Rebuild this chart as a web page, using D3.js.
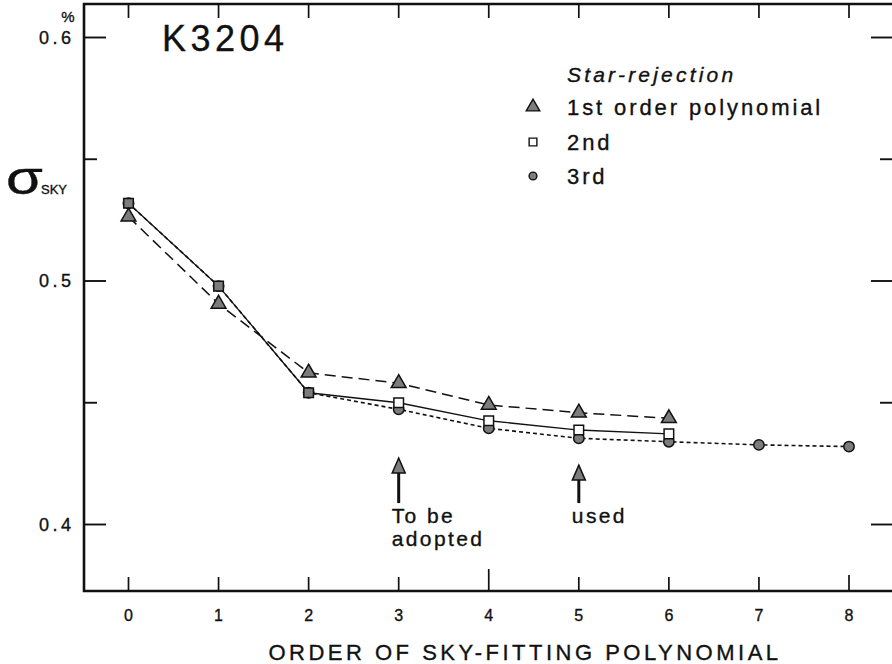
<!DOCTYPE html>
<html>
<head>
<meta charset="utf-8">
<script src="https://cdn.jsdelivr.net/npm/d3@7"></script>
<style>
  body { margin: 0; background: #fff; }
  svg { display: block; }
  text { font-family: "Liberation Sans", Arial, Helvetica, sans-serif; fill: #111; stroke: #111; stroke-width: 0.35px; }
</style>
</head>
<body>
<svg id="chart" width="892" height="664"></svg>
<script>
// Sky noise (sigma_SKY, %) versus order of the sky-fitting polynomial, K3204
const orders = [0, 1, 2, 3, 4, 5, 6, 7, 8];
const firstOrder  = [0.5264, 0.4906, 0.4623, 0.4580, 0.4491, 0.4459, 0.4436];
const secondOrder = [0.5319, 0.4979, 0.4541, 0.4500, 0.4426, 0.4388, 0.4372];
const thirdOrder  = [0.5319, 0.4979, 0.4541, 0.4473, 0.4395, 0.4354, 0.4340, 0.4327, 0.4320];
const yMajorTicks = [0.4, 0.5, 0.6];
const yMinorTicks = [0.45, 0.55];
const yTickLabels = ["0.4", "0.5", "0.6"];
const xTickLabels = ["0", "1", "2", "3", "4", "5", "6", "7", "8"];
const legendLabels = ["1st order polynomial", "2nd", "3rd"];
// annotation arrows: order, tip value, tail value, caption lines
const arrowOrders = [3, 5];
const arrowTips = [0.4273, 0.4244];
const arrowTails = [0.4088, 0.4088];
const arrowCaptions = [["To be", "adopted"], ["used"]];

const svg = d3.select("#chart");
const W = 892, H = 664;
const frame = { left: 84, top: 4, bottom: 591, right: 893 };

const x = d3.scaleLinear().domain([0, 8]).range([128.5, 849]);
const y = d3.scaleLinear().domain([0.4, 0.6]).range([524.5, 37.5]);

const ink = "#111";
const markFill = "#7c7c7c";

// frame (right edge runs off the page)
svg.append("path")
  .attr("d", `M${frame.right},${frame.top}H${frame.left}V${frame.bottom}H${frame.right}`)
  .attr("fill", "none").attr("stroke", ink).attr("stroke-width", 2.6);

// x ticks, bottom (inward) and top (inward)
const xTickLen = d => d === 4 ? 22 : (d === 8 ? 16 : 14);
svg.append("g").selectAll("line").data(orders).join("line")
  .attr("x1", d => x(d)).attr("x2", d => x(d))
  .attr("y1", frame.bottom).attr("y2", d => frame.bottom - xTickLen(d))
  .attr("stroke", ink).attr("stroke-width", 1.7);
svg.append("g").selectAll("line").data(orders).join("line")
  .attr("x1", d => x(d)).attr("x2", d => x(d))
  .attr("y1", frame.top).attr("y2", frame.top + 14)
  .attr("stroke", ink).attr("stroke-width", 1.7);

// y ticks, left and right (inward)
const yTicksAll = yMajorTicks.map(v => ({ v, len: 22 })).concat(yMinorTicks.map(v => ({ v, len: 13 })));
svg.append("g").selectAll("line").data(yTicksAll).join("line")
  .attr("x1", frame.left).attr("x2", d => frame.left + d.len)
  .attr("y1", d => y(d.v)).attr("y2", d => y(d.v))
  .attr("stroke", ink).attr("stroke-width", 1.9);
svg.append("g").selectAll("line").data(yTicksAll).join("line")
  .attr("x1", W).attr("x2", d => W - d.len + 1)
  .attr("y1", d => y(d.v)).attr("y2", d => y(d.v))
  .attr("stroke", ink).attr("stroke-width", 1.9);

// tick labels
svg.append("g").selectAll("text").data(yMajorTicks).join("text")
  .attr("x", 74.5).attr("y", d => y(d)).attr("dy", "0.36em")
  .attr("text-anchor", "end").attr("font-size", 18).attr("letter-spacing", 3.5)
  .text((d, i) => yTickLabels[i]);
svg.append("text").attr("x", 68).attr("y", 22).attr("text-anchor", "middle")
  .attr("font-size", 15).text("%");

svg.append("g").selectAll("text").data(orders).join("text")
  .attr("x", d => x(d)).attr("y", 621)
  .attr("text-anchor", "middle").attr("font-size", 16)
  .text((d, i) => xTickLabels[i]);

// axis titles
svg.append("text").attr("x", 525).attr("y", 660)
  .attr("text-anchor", "middle").attr("font-size", 22)
  .attr("letter-spacing", 3.5)
  .text("ORDER OF SKY-FITTING POLYNOMIAL");

svg.append("text")
  .attr("transform", "translate(6,194) scale(1.3,1)")
  .attr("font-family", "DejaVu Sans").attr("font-size", 46)
  .attr("stroke-width", 0.6)
  .text("σ");
svg.append("text").attr("x", 41).attr("y", 194)
  .attr("font-size", 13).text("SKY");

// panel title
svg.append("text").attr("x", 162).attr("y", 51)
  .attr("font-size", 36).attr("letter-spacing", 4.5)
  .attr("stroke", ink).attr("stroke-width", 0.8)
  .text("K3204");

// series lines
const line = d3.line().x((d, i) => x(orders[i])).y(d => y(d));
svg.append("path").datum(thirdOrder).attr("d", line)
  .attr("fill", "none").attr("stroke", ink).attr("stroke-width", 1.6)
  .attr("stroke-dasharray", "4,3");
svg.append("path").datum(firstOrder).attr("d", line)
  .attr("fill", "none").attr("stroke", ink).attr("stroke-width", 1.5)
  .attr("stroke-dasharray", "11,6");
svg.append("path").datum(secondOrder).attr("d", line)
  .attr("fill", "none").attr("stroke", ink).attr("stroke-width", 1.3);

// markers
const tri = d3.symbol().type(d3.symbolTriangle).size(95);
const sq = d3.symbol().type(d3.symbolSquare).size(92);
const circ = d3.symbol().type(d3.symbolCircle).size(85);

svg.append("g").selectAll("path").data(thirdOrder).join("path")
  .attr("d", circ)
  .attr("transform", (d, i) => `translate(${x(orders[i])},${y(d)})`)
  .attr("fill", markFill).attr("stroke", ink).attr("stroke-width", 1.5);
svg.append("g").selectAll("path").data(secondOrder).join("path")
  .attr("d", sq)
  .attr("transform", (d, i) => `translate(${x(orders[i])},${y(d)})`)
  .attr("fill", (d, i) => d === thirdOrder[i] ? markFill : "#fff")
  .attr("stroke", ink).attr("stroke-width", 1.5);
svg.append("g").selectAll("path").data(firstOrder).join("path")
  .attr("d", tri)
  .attr("transform", (d, i) => `translate(${x(orders[i])},${y(d)})`)
  .attr("fill", markFill).attr("stroke", ink).attr("stroke-width", 1.5);

// legend
svg.append("text").attr("x", 567).attr("y", 82)
  .attr("font-size", 21).attr("font-style", "italic").attr("letter-spacing", 3.2)
  .text("Star-rejection");
const legendSyms = [
  d3.symbol().type(d3.symbolTriangle).size(80),
  d3.symbol().type(d3.symbolSquare).size(60),
  d3.symbol().type(d3.symbolCircle).size(48)
];
const legendFills = [markFill, "#fff", markFill];
const legendY = [107, 142, 176];
const lg = svg.append("g").selectAll("g").data(legendLabels).join("g")
  .attr("transform", (d, i) => `translate(0,${legendY[i]})`);
lg.append("path").attr("d", (d, i) => legendSyms[i]())
  .attr("transform", "translate(533,0)")
  .attr("fill", (d, i) => legendFills[i]).attr("stroke", ink).attr("stroke-width", 1.4);
lg.append("text").attr("x", 567).attr("dy", "0.36em")
  .attr("font-size", 22).attr("letter-spacing", 2.9)
  .text(d => d);

// annotation arrows
const arrows = arrowOrders.map((o, i) => ({ o, tip: arrowTips[i], tail: arrowTails[i], cap: arrowCaptions[i] }));
const ag = svg.append("g").selectAll("g").data(arrows).join("g");
ag.append("line")
  .attr("x1", d => x(d.o)).attr("x2", d => x(d.o))
  .attr("y1", d => y(d.tip) + 12).attr("y2", d => y(d.tail))
  .attr("stroke", ink).attr("stroke-width", 3);
ag.append("path")
  .attr("d", d => `M${x(d.o)},${y(d.tip)}L${x(d.o) + 6.5},${y(d.tip) + 15}L${x(d.o) - 6.5},${y(d.tip) + 15}Z`)
  .attr("fill", markFill).attr("stroke", ink).attr("stroke-width", 1.5);
ag.each(function (d) {
  d.cap.forEach((c, k) => d3.select(this).append("text")
    .attr("x", x(d.o) - 7).attr("y", y(d.tail) + 20 + k * 23)
    .attr("font-size", 21).attr("letter-spacing", 2.4)
    .text(c));
});
</script>
</body>
</html>
